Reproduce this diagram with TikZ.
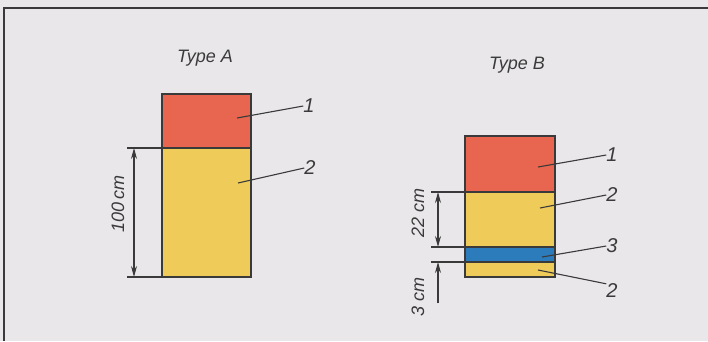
\documentclass[tikz,border=0pt]{standalone}
\usepackage{fontspec}
\setmainfont{Liberation Sans}
\usetikzlibrary{arrows.meta}
\definecolor{paper}{HTML}{E9E7EA}
\definecolor{layerred}{HTML}{E8654F}
\definecolor{layeryellow}{HTML}{EFCB5A}
\definecolor{layerblue}{HTML}{2C7BBB}
\definecolor{ink}{HTML}{3A3A3A}
\tikzset{
  layer/.style={draw=ink, line width=2.6pt},
  leader/.style={draw=ink, line width=1.1pt},
  extline/.style={draw=ink, line width=1.1pt},
  dimarrow/.style={draw=ink, line width=1.1pt, {Stealth[length=11pt,width=6pt]}-{Stealth[length=11pt,width=6pt]}},
  uparrow/.style={draw=ink, line width=1.1pt, -{Stealth[length=11pt,width=6pt]}},
  lbl/.style={font=\fontsize{20}{20}\selectfont\itshape, text=ink, inner sep=0pt},
  title/.style={font=\fontsize{18}{18}\selectfont\itshape, text=ink, inner sep=0pt},
  dimtext/.style={font=\fontsize{18}{18}\selectfont\itshape, text=ink, inner sep=0pt, rotate=90}
}
\begin{document}
\begin{tikzpicture}[x=1pt, y=-1pt]
\useasboundingbox[fill=paper] (0,0) rectangle (708,341);
% frame
\draw[ink, line width=1.4pt] (4,341) -- (4,8) -- (708,8);
% Type A
\node[title] (titleA) at (205,58) {Type A};
\draw[layer, fill=layerred] (162,94) rectangle (251,148);
\draw[layer, fill=layeryellow] (162,148) rectangle (251,277);
\coordinate (a1) at (237,118);
\coordinate (a2) at (238,183);
\node[lbl] (labA1) at (309,106) {1};
\node[lbl] (labA2) at (310,168) {2};
\draw[leader] (a1) -- (labA1.west);
\draw[leader] (a2) -- (labA2.west);
% dimension A
\coordinate (ea1) at (127,148);
\coordinate (ea2) at (127,277);
\draw[extline] (ea1) -- (162,148);
\draw[extline] (ea2) -- (162,277);
\draw[dimarrow] (134,148) -- (134,277);
\node[dimtext] (dimA) at (118,204) {100\,cm};
% Type B
\node[title] (titleB) at (517,65) {Type B};
\draw[layer, fill=layerred] (465,136) rectangle (555,192);
\draw[layer, fill=layeryellow] (465,192) rectangle (555,247);
\draw[layer, fill=layerblue] (465,247) rectangle (555,262);
\draw[layer, fill=layeryellow] (465,262) rectangle (555,277);
\coordinate (b1) at (538,167);
\coordinate (b2) at (540,208);
\coordinate (b3) at (542,257);
\coordinate (b4) at (538,270);
\node[lbl] (labB1) at (612,155) {1};
\node[lbl] (labB2) at (612,195) {2};
\node[lbl] (labB3) at (612,246) {3};
\node[lbl] (labB4) at (612,291) {2};
\draw[leader] (b1) -- (labB1.west);
\draw[leader] (b2) -- (labB2.west);
\draw[leader] (b3) -- (labB3.west);
\draw[leader] (b4) -- (labB4.north west);
% dimensions B
\draw[extline] (431,192) -- (465,192);
\draw[extline] (431,247) -- (465,247);
\draw[extline] (431,262) -- (465,262);
\draw[dimarrow] (438,192) -- (438,247);
\coordinate (tail3) at (438,303);
\draw[uparrow] (tail3) -- (438,262);
\node[dimtext] (dimB1) at (418,213) {22 cm};
\node[dimtext] (dimB2) at (418,297) {3 cm};
\end{tikzpicture}
\end{document}
